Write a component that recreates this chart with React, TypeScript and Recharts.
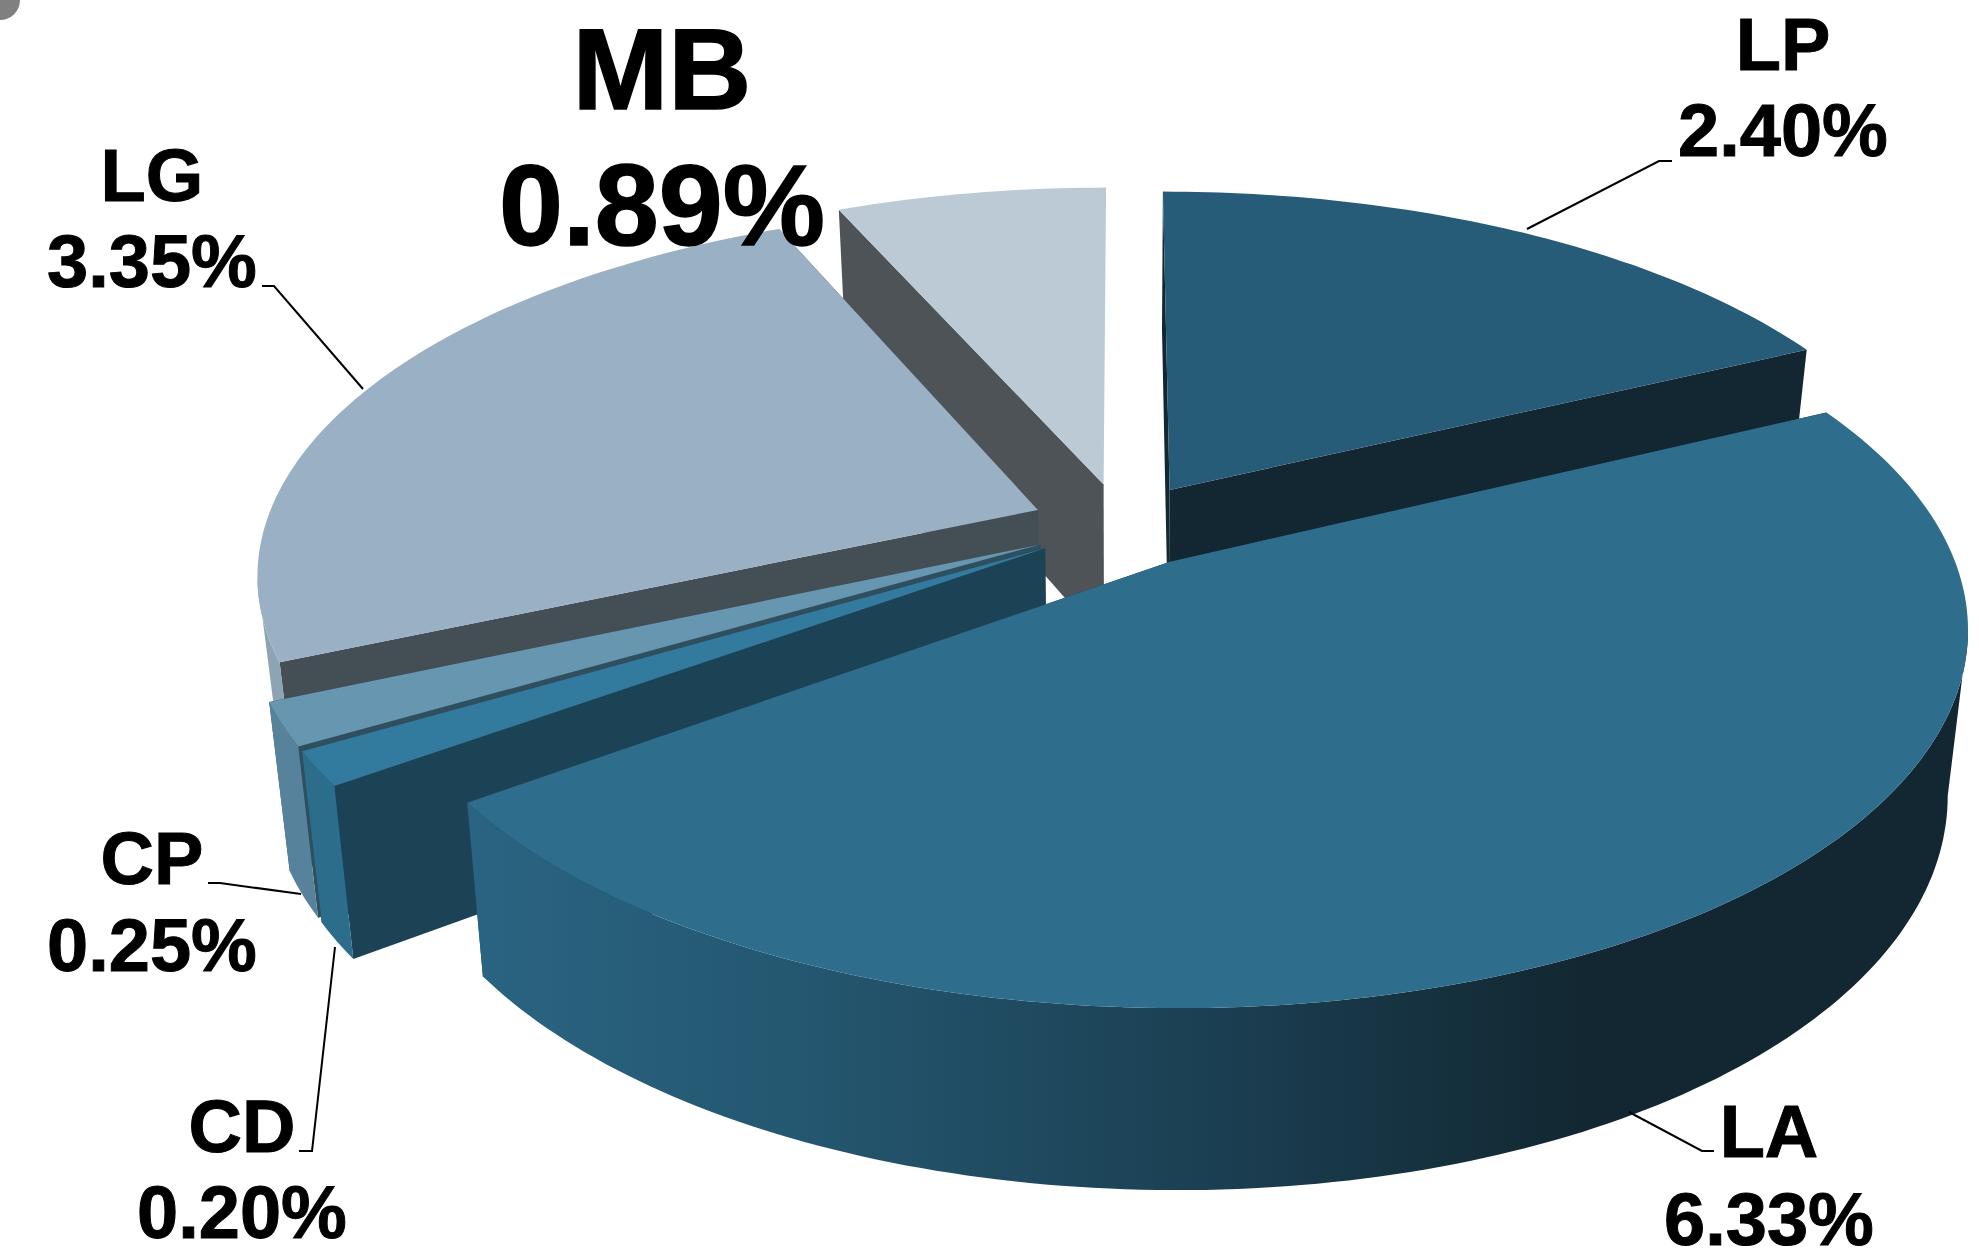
import React from "react";
import { PieChart, Pie } from "recharts";

const sliceNames = ["LP", "LA", "CD", "CP", "LG", "MB"];
const sliceShares = [2.4, 6.33, 0.2, 0.25, 3.35, 0.89];
const drawOrder = ["MB", "LP", "LG", "CP", "CD", "LA"];

const chartData = sliceNames.map((name, i) => ({ name, share: sliceShares[i] }));

const W = 1979, H = 1252, CX = 1122, CY = 525, RADIUS = 782;
const EXPLODE = 0.1176, TILT = 0.464, PERSP = 0.168, DEPTH0 = 1.012, BOTTOM_SHRINK = 0.976;

const looks: Record<string, { top: string; rim: string; side: string; hideEndWall?: boolean }> = {
  LP: { top: "#265c77", rim: "#122731", side: "#122731" },
  LA: { top: "#2e6d8b", rim: "url(#laWall)", side: "#1c4256" },
  CD: { top: "#337b9e", rim: "#2d6d8c", side: "#1c4256" },
  CP: { top: "#6696b0", rim: "#57829b", side: "#2f4f5f" },
  LG: { top: "#9ab1c5", rim: "#8da4b5", side: "#444e55" },
  MB: { top: "#bbcad5", rim: "#a5b5c1", side: "#4d5357", hideEndWall: true },
};

const labelLayout: Record<string, any> = {
  LP: { x: 1783, y1: 70, y2: 156, line: "1672,161 1659,161 1527,229" },
  LG: { x: 152, y1: 201, y2: 287, line: "262,286 274,286 363,389" },
  CP: { x: 152, y1: 884, y2: 971, line: "208,883 220,883 301,894" },
  CD: { x: 242, y1: 1152, y2: 1238, line: "299,1151 312,1151 335,947" },
  LA: { x: 1769, y1: 1157, y2: 1245, line: "1714,1151 1702,1151 1629,1112" },
  MB: { x: 662, y1: 109, y2: 245, big: true },
};

const rad = (d: number) => (d * Math.PI) / 180;

function makeSlice(only: string) {
  return function Slice(props: any) {
    const name = props.name ?? props.payload?.name;
    if (name !== only) return <g />;
    const look = looks[name];
    const a0 = 90 - props.startAngle;
    const a1 = 90 - props.endAngle;
    const mid = (a0 + a1) / 2;
    const cx = props.cx, cy = props.cy, R = props.outerRadius;
    const ex = EXPLODE * Math.sin(rad(mid));
    const ey = -EXPLODE * Math.cos(rad(mid));
    const top = (theta: number, r: number) => {
      const local = -r * Math.cos(rad(theta));
      const U = ex + r * Math.sin(rad(theta));
      const V = ey + local;
      const s = 1 / (DEPTH0 - PERSP * V);
      return { x: cx + R * U * s, y: cy + R * TILT * V * s, V, local };
    };
    const bottom = (p: { x: number; y: number; V: number; local: number }) => ({
      x: cx + BOTTOM_SHRINK * (p.x - cx),
      y: p.y + 160 + 20 * p.V,
      V: p.V,
      local: p.local,
    });
    const d = (pts: { x: number; y: number }[]) =>
      "M" + pts.map((p) => `${p.x.toFixed(1)},${p.y.toFixed(1)}`).join("L") + "Z";

    const arc: number[] = [];
    const n = Math.max(2, Math.ceil(a1 - a0));
    for (let i = 0; i <= n; i++) arc.push(a0 + ((a1 - a0) * i) / n);
    const apex = top(0, 0);
    const rimPts = arc.map((t) => top(t, 1));
    const frontPts = rimPts.filter((p) => p.local > 0.17);
    const wallOf = (theta: number) => {
      const p = top(theta, 1);
      return d([apex, p, bottom(p), bottom(apex)]);
    };
    return (
      <g>
        <defs>
          <linearGradient id="laWall" gradientUnits="userSpaceOnUse" x1="470" y1="0" x2="1960" y2="0">
            <stop offset="0" stopColor="#2a6482" />
            <stop offset="0.22" stopColor="#245770" />
            <stop offset="0.5" stopColor="#1b3f52" />
            <stop offset="0.75" stopColor="#122731" />
            <stop offset="1" stopColor="#122731" />
          </linearGradient>
        </defs>
        <path d={wallOf(a0)} fill={look.side} />
        {!look.hideEndWall && <path d={wallOf(a1)} fill={look.side} />}
        {frontPts.length > 1 && (
          <path d={d([...frontPts, ...frontPts.slice().reverse().map(bottom)])} fill={look.rim} />
        )}
        <path d={d([apex, ...rimPts])} fill={look.top} />
      </g>
    );
  };
}

function renderLabel(props: any) {
  const name = props.name ?? props.payload?.name;
  const value = props.value ?? props.payload?.share;
  const l = labelLayout[name];
  if (!l) return <g />;
  const font = { fontFamily: "Liberation Sans", fontWeight: 700, fontSize: l.big ? 115 : 74, fill: "#000", textAnchor: "middle" as const, stroke: "#000", strokeWidth: l.big ? 1.5 : 1 };
  return (
    <g>
      {l.line && <polyline points={l.line} fill="none" stroke="#000" strokeWidth={2} />}
      <text x={l.x} y={l.y1} {...font}>{name}</text>
      <text x={l.x} y={l.y2} {...font}>{Number(value).toFixed(2)}%</text>
    </g>
  );
}

export default function App() {
  return (
    <div style={{ position: "absolute", left: 0, top: 0, width: W, height: H, background: "#fff", overflow: "hidden" }}>
      <div style={{ position: "absolute", left: -20, top: -20, width: 40, height: 40, borderRadius: "50%", background: "#808080" }} />
      <PieChart width={W} height={H} margin={{ top: 0, right: 0, bottom: 0, left: 0 }}>
        {drawOrder.map((layer, i) => (
          <Pie
            key={layer}
            data={chartData}
            dataKey="share"
            nameKey="name"
            cx={CX}
            cy={CY}
            innerRadius={0}
            outerRadius={RADIUS}
            startAngle={90}
            endAngle={-270}
            stroke="none"
            isAnimationActive={false}
            labelLine={false}
            label={i === drawOrder.length - 1 ? renderLabel : false}
            shape={makeSlice(layer)}
          />
        ))}
      </PieChart>
    </div>
  );
}
